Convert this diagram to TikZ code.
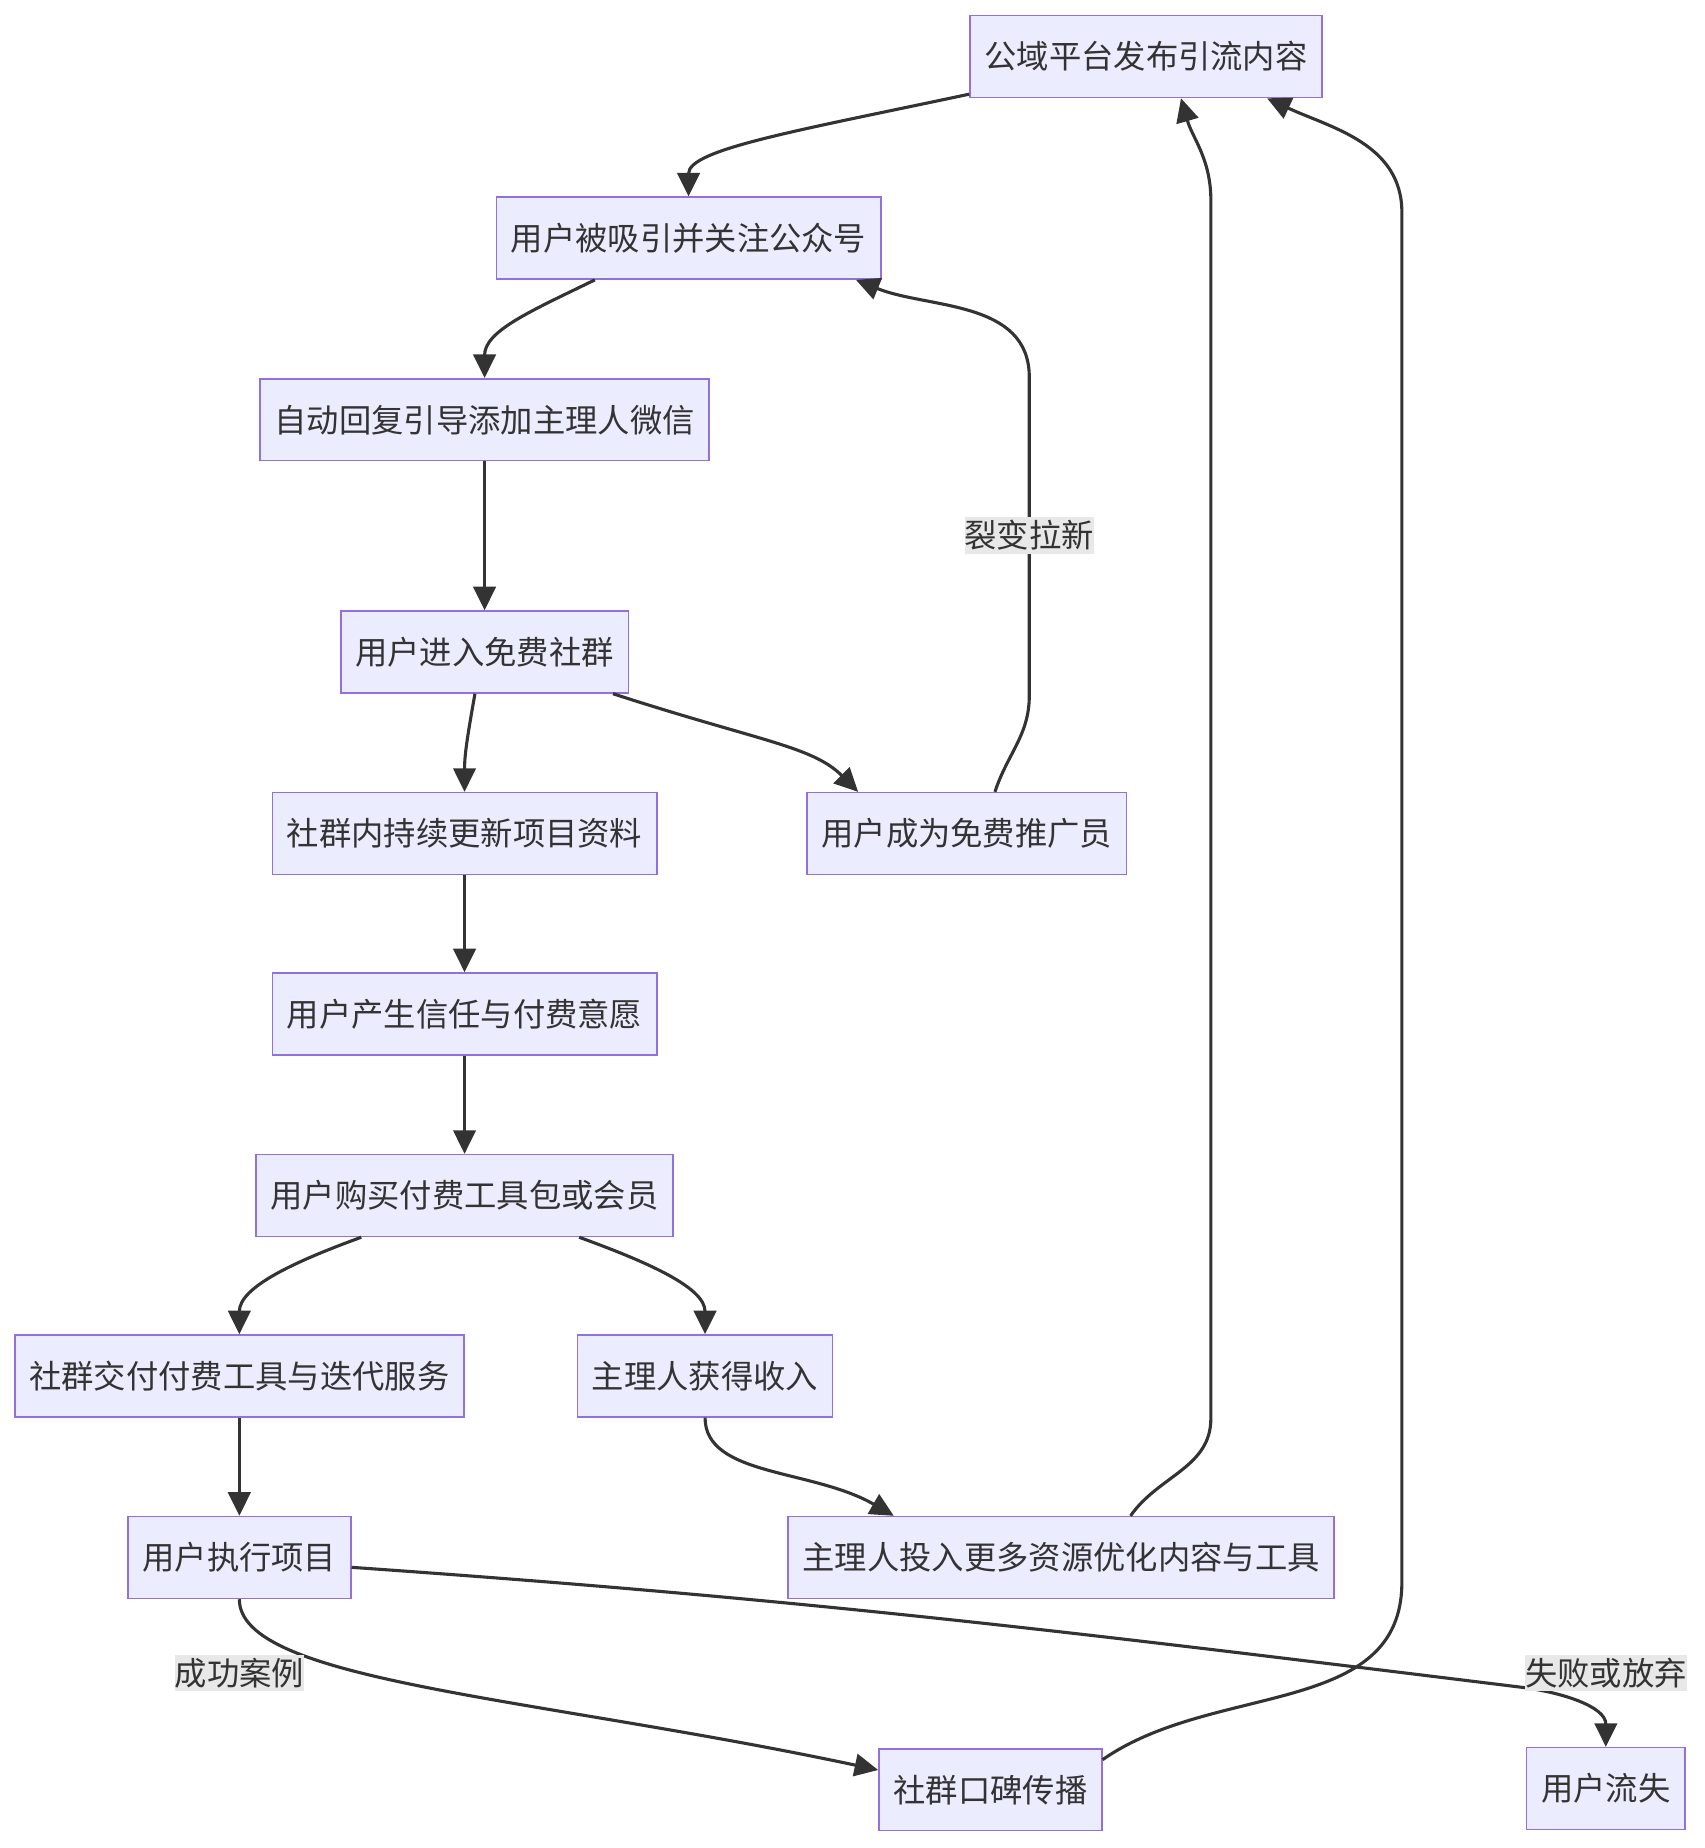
\documentclass[tikz,border=0pt]{standalone}
\usepackage{fontspec}
\usepackage{tikz}
\usetikzlibrary{arrows.meta}
\newfontfamily\cjk{Noto Sans CJK SC}
\definecolor{boxfill}{HTML}{ECECFF}
\definecolor{boxline}{HTML}{9370DB}
\definecolor{edge}{HTML}{333333}
\definecolor{lblbg}{HTML}{E8E8E8}

\begin{document}
\begin{tikzpicture}[x=0.02cm, y=-0.02cm,
    box/.style={draw=boxline, fill=boxfill, line width=0.72pt, minimum height=1.39cm, inner xsep=0.246cm, text=edge, font=\cjk\fontsize{15.6pt}{18pt}\selectfont},
    flow/.style={draw=edge, line width=1.5pt, -{Triangle[length=0.4cm, width=0.38cm]}},
    lbl/.style={fill=lblbg, text=edge, inner sep=0pt, minimum height=0.62cm, font=\cjk\fontsize{15.6pt}{18pt}\selectfont}]
    \useasboundingbox (0,0) rectangle (1445.3,1567.4);

    \node (post) at (972, 48) [box] {公域平台发布引流内容};
    \node (follow) at (584, 202) [box] {用户被吸引并关注公众号};
    \node (reply) at (411, 356) [box] {自动回复引导添加主理人微信};
    \node (group) at (411, 553) [box] {用户进入免费社群};
    \node (update) at (394, 707) [box] {社群内持续更新项目资料};
    \node (promoter) at (820, 707) [box] {用户成为免费推广员};
    \node (trust) at (394, 860) [box] {用户产生信任与付费意愿};
    \node (buy) at (394, 1014) [box] {用户购买付费工具包或会员};
    \node (deliver) at (203, 1167) [box] {社群交付付费工具与迭代服务};
    \node (income) at (598, 1167) [box] {主理人获得收入};
    \node (execute) at (203, 1321) [box] {用户执行项目};
    \node (invest) at (900, 1321) [box] {主理人投入更多资源优化内容与工具};
    \node (wom) at (840, 1518) [box] {社群口碑传播};
    \node (churn) at (1362, 1517) [box] {用户流失};

    % bends of the long loops
    \coordinate (fb1) at (873, 590);
    \coordinate (fb2) at (873, 320);
    \coordinate (la1) at (1027, 1203);
    \coordinate (la2) at (1027, 170);
    \coordinate (ma1) at (1189, 1342);
    \coordinate (ma2) at (1189, 180);
    \coordinate (kn1) at (1290, 1431);

    \draw[flow] (post.192) to [out=192, in=90, out distance=3cm, in distance=0.8cm] (follow.north);
    \draw[flow] (follow.204) to [out=206, in=90, out distance=1.2cm, in distance=0.8cm] (reply.north);
    \draw[flow] (reply) -- (group);
    \draw[flow] (group.257) to [out=-100, in=90] (update.north);
    \draw[flow] (group.-18) to [out=-18, in=135, out distance=2.6cm, in distance=1.1cm] (promoter.159);
    \draw[flow] (promoter.56) to [out=72, in=-90] (fb1) -- (fb2) to [out=90, in=-22] (follow.-14);

    \draw[flow] (update) -- (trust);
    \draw[flow] (trust) -- (buy);

    \draw[flow] (buy.202) to [out=200, in=90, out distance=1.2cm, in distance=0.8cm] (deliver.north);
    \draw[flow] (buy.-20) to [out=-20, in=90, out distance=1.2cm, in distance=0.8cm] (income.north);
    \draw[flow] (deliver) -- (execute);
    \draw[flow] (income.south) to [out=-90, in=150, out distance=1cm, in distance=1.6cm] (invest.166);

    \draw[flow] (invest.31) to [out=55, in=-90] (la1) -- (la2) to [out=90, in=-74] (post.-50);
    \draw[flow] (wom.15) to [out=35, in=-90] (ma1) -- (ma2) to [out=90, in=-25] (post.-19);

    \draw[flow] (execute.south) to [out=-90, in=168, out distance=1.4cm, in distance=6cm] (wom.170);
    \draw[flow] (execute.-5) to [out=-4, in=173] (kn1) to [out=-7, in=90] (churn.north);

    \node (fission) at (873, 454) [lbl] {裂变拉新};
    \node (success) at (203, 1419) [lbl] {成功案例};
    \node (fail) at (1362, 1419) [lbl] {失败或放弃};
\end{tikzpicture}
\end{document}
